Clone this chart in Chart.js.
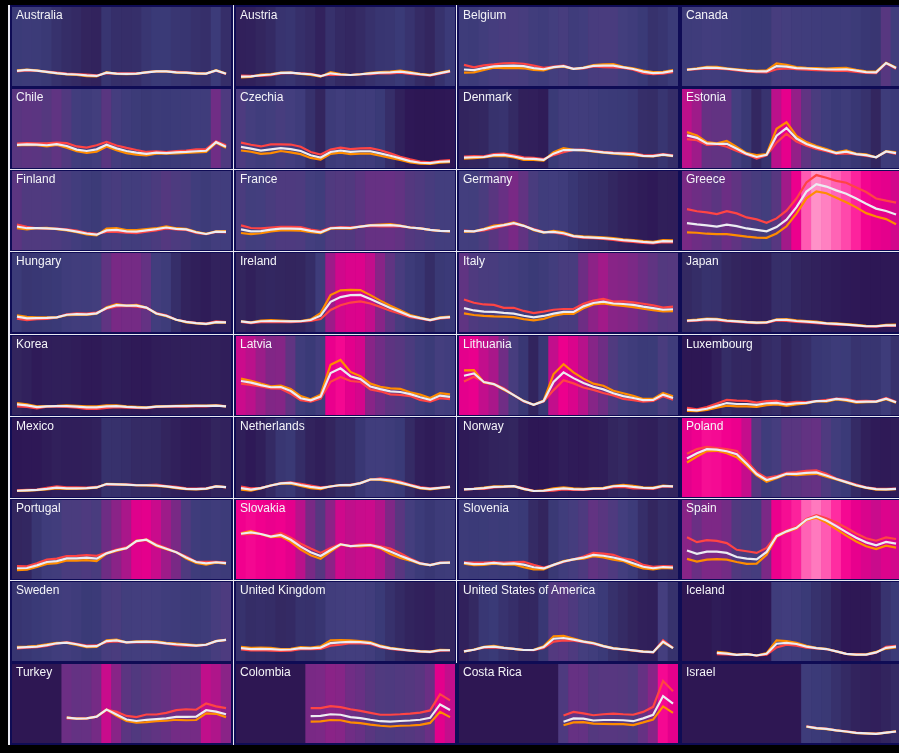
<!DOCTYPE html>
<html>
<head>
<meta charset="utf-8">
<script src="https://cdn.jsdelivr.net/npm/chart.js@4.4.0/dist/chart.umd.min.js"></script>
<style>
  html, body { margin: 0; padding: 0; background: #000; width: 899px; height: 753px; overflow: hidden; }
  #frame { position: absolute; left: 10px; top: 5px; width: 889px; height: 740px; background: #0f0c55; }
  .panel { position: absolute; background: #2e1753; overflow: hidden; }
  .panel canvas { position: absolute; left: 0; top: 0; }
  .title { position: absolute; left: 4px; top: 1px; font: 12px "Liberation Sans", Arial, sans-serif; color: #f4f4f8; white-space: nowrap; }
  .rule { position: absolute; background: #e9e9f1; }
</style>
</head>
<body>
<div id="frame"></div>
<script>
// unemployment rate (%), yearly 2000-2021; total / women / men per country
const years = [2000, 2001, 2002, 2003, 2004, 2005, 2006, 2007, 2008, 2009, 2010,
               2011, 2012, 2013, 2014, 2015, 2016, 2017, 2018, 2019, 2020, 2021];

const countries = [
  'Australia', 'Austria', 'Belgium', 'Canada',
  'Chile', 'Czechia', 'Denmark', 'Estonia',
  'Finland', 'France', 'Germany', 'Greece',
  'Hungary', 'Ireland', 'Italy', 'Japan',
  'Korea', 'Latvia', 'Lithuania', 'Luxembourg',
  'Mexico', 'Netherlands', 'Norway', 'Poland',
  'Portugal', 'Slovakia', 'Slovenia', 'Spain',
  'Sweden', 'United Kingdom', 'United States of America', 'Iceland',
  'Turkey', 'Colombia', 'Costa Rica', 'Israel'
];

const gap = n => Array(n).fill(null); // years with no data

const total = [
  [6.3,6.7,6.4,5.9,5.4,5.0,4.8,4.4,4.2,5.6,5.2,5.1,5.2,5.7,6.1,6.1,5.7,5.6,5.3,5.2,6.5,5.1], // Australia
  [3.9,4.0,4.5,4.8,5.5,5.6,5.2,4.9,4.1,5.3,4.8,4.6,4.9,5.3,5.6,5.7,6.0,5.5,4.9,4.5,5.4,6.2], // Austria
  [6.9,6.6,7.5,8.2,8.4,8.5,8.3,7.5,7.0,7.9,8.3,7.2,7.6,8.4,8.5,8.5,7.8,7.1,6.0,5.4,5.6,6.3], // Belgium
  [6.8,7.2,7.7,7.6,7.2,6.8,6.3,6.1,6.1,8.3,8.1,7.5,7.3,7.1,6.9,6.9,7.0,6.4,5.8,5.7,9.6,7.5], // Canada
  [9.7,9.9,9.8,9.5,10.0,9.2,7.7,7.1,7.8,9.7,8.2,7.1,6.4,5.9,6.4,6.2,6.5,6.7,7.0,7.2,10.8,8.9], // Chile
  [8.8,8.1,7.3,7.8,8.3,7.9,7.1,5.3,4.4,6.7,7.3,6.7,7.0,7.0,6.1,5.1,4.0,2.9,2.2,2.0,2.6,2.8], // Czechia
  [4.3,4.5,4.6,5.4,5.5,4.8,3.9,3.8,3.4,6.0,7.5,7.6,7.5,7.0,6.5,6.2,6.0,5.8,5.1,5.0,5.6,5.1], // Denmark
  [13.6,12.6,10.3,10.1,10.1,8.0,5.9,4.6,5.5,13.5,16.7,12.3,10.0,8.6,7.4,6.2,6.8,5.8,5.4,4.5,6.9,6.2], // Estonia
  [9.8,9.1,9.1,9.0,8.8,8.4,7.7,6.9,6.4,8.2,8.4,7.8,7.7,8.2,8.7,9.4,8.8,8.6,7.4,6.7,7.7,7.6], // Finland
  [8.6,7.8,7.9,8.5,8.9,8.9,8.8,8.0,7.4,9.1,9.3,9.2,9.8,10.3,10.3,10.4,10.1,9.4,9.0,8.4,8.0,7.9], // France
  [7.9,7.8,8.6,9.7,10.4,11.2,10.1,8.5,7.4,7.6,7.0,5.8,5.4,5.2,5.0,4.6,4.1,3.8,3.4,3.1,3.7,3.6], // Germany
  [11.2,10.7,10.3,9.8,10.6,10.0,9.0,8.4,7.8,9.6,12.7,17.9,24.4,27.5,26.5,24.9,23.5,21.5,19.3,17.3,16.3,14.8], // Greece
  [6.4,5.7,5.8,5.9,6.1,7.2,7.5,7.4,7.8,10.0,11.2,11.0,11.0,10.2,7.7,6.8,5.1,4.2,3.7,3.4,4.1,4.0], // Hungary
  [4.4,3.9,4.5,4.6,4.5,4.4,4.5,5.0,6.8,12.6,14.6,15.4,15.5,13.8,11.9,10.0,8.4,6.7,5.8,5.0,5.9,6.2], // Ireland
  [10.0,9.0,8.5,8.4,8.0,7.7,6.8,6.1,6.7,7.7,8.4,8.4,10.7,12.1,12.7,11.9,11.7,11.3,10.6,10.0,9.3,9.5], // Italy
  [4.7,5.0,5.4,5.3,4.7,4.4,4.1,3.9,4.0,5.1,5.1,4.6,4.3,4.0,3.6,3.4,3.1,2.8,2.4,2.4,2.8,2.8], // Japan
  [4.4,4.0,3.3,3.6,3.7,3.7,3.5,3.2,3.2,3.6,3.7,3.4,3.2,3.1,3.5,3.6,3.7,3.7,3.8,3.8,3.9,3.6], // Korea
  [14.2,13.5,12.5,11.6,11.7,10.0,7.0,6.1,7.7,17.5,19.5,16.2,15.0,11.9,10.8,9.9,9.6,8.7,7.4,6.3,8.1,7.6], // Latvia
  [16.4,17.4,13.8,12.9,10.8,8.3,5.8,4.3,5.8,13.8,17.8,15.4,13.4,11.8,10.7,9.1,7.9,7.1,6.2,6.3,8.5,7.1], // Lithuania
  [2.2,1.9,2.6,3.8,5.0,4.6,4.6,4.2,4.9,5.1,4.4,4.9,5.1,5.8,5.9,6.7,6.3,5.5,5.6,5.6,6.8,5.3], // Luxembourg
  [2.6,2.8,3.0,3.4,3.9,3.6,3.6,3.7,4.0,5.4,5.3,5.2,4.9,4.9,4.8,4.4,3.9,3.4,3.3,3.5,4.4,4.1], // Mexico
  [3.7,3.1,3.7,4.8,5.7,5.9,5.0,4.2,3.7,4.4,5.0,5.0,5.8,7.3,7.4,6.9,6.0,4.9,3.8,3.4,3.8,4.2], // Netherlands
  [3.2,3.4,3.7,4.2,4.3,4.5,3.4,2.5,2.6,3.2,3.6,3.3,3.2,3.5,3.6,4.5,4.7,4.2,3.8,3.7,4.6,4.4], // Norway
  [16.1,18.3,20.0,19.8,19.1,17.9,13.9,9.6,7.1,8.2,9.7,9.7,10.1,10.3,9.0,7.5,6.2,4.9,3.9,3.3,3.2,3.4], // Poland
  [4.5,4.6,5.7,7.1,7.5,8.6,8.6,8.9,8.5,10.7,12.0,12.9,15.8,16.4,14.1,12.6,11.2,9.0,7.1,6.5,7.0,6.6], // Portugal
  [18.9,19.5,18.8,17.7,18.4,16.4,13.5,11.2,9.6,12.1,14.5,13.7,14.0,14.2,13.2,11.5,9.7,8.1,6.5,5.8,6.7,6.8], // Slovakia
  [6.7,6.2,6.3,6.7,6.3,6.5,6.0,4.9,4.4,5.9,7.3,8.2,8.9,10.1,9.7,9.0,8.0,6.6,5.1,4.5,5.0,4.8], // Slovenia
  [11.9,10.5,11.4,11.4,10.9,9.2,8.5,8.2,11.3,17.9,19.9,21.4,24.8,26.1,24.4,22.1,19.6,17.2,15.3,14.1,15.5,14.8], // Spain
  [5.6,5.8,6.0,6.6,7.4,7.7,7.0,6.1,6.2,8.3,8.6,7.8,8.0,8.1,7.9,7.4,7.0,6.7,6.4,6.8,8.3,8.8], // Sweden
  [5.4,5.0,5.1,5.0,4.7,4.8,5.4,5.3,5.6,7.5,7.8,8.0,7.9,7.5,6.1,5.3,4.8,4.3,4.0,3.8,4.5,4.5], // United Kingdom
  [4.0,4.7,5.8,6.0,5.5,5.1,4.6,4.6,5.8,9.3,9.6,8.9,8.1,7.4,6.2,5.3,4.9,4.4,3.9,3.7,8.1,5.4], // United States
  [...gap(3), 3.4,3.1,2.6,2.9,2.3,3.0,7.2,7.6,7.1,6.0,5.4,5.0,4.0,3.0,2.7,2.7,3.6,5.5,6.0], // Iceland
  [...gap(5), 10.6,10.2,10.3,11.0,14.0,11.9,9.8,9.2,9.7,10.0,10.3,10.9,10.9,11.0,13.7,13.1,12.0], // Turkey
  [...gap(7), 11.2,11.3,12.0,11.8,10.8,10.4,9.7,9.1,8.9,9.2,9.4,9.7,10.5,16.1,13.8], // Colombia
  [...gap(10), 8.9,10.3,10.2,9.4,9.6,9.6,9.5,9.1,10.3,11.8,19.6,16.4], // Costa Rica
  [...gap(12), 6.9,6.2,5.9,5.3,4.8,4.2,4.0,3.8,4.3,4.8] // Israel
];

const women = [
  [6.1,6.5,6.3,6.0,5.6,5.2,5.0,4.8,4.4,5.4,5.3,5.3,5.3,5.6,6.2,6.1,5.9,5.7,5.4,5.2,6.4,5.0],
  [4.3,4.2,4.2,4.5,5.3,5.5,5.3,5.1,4.2,4.7,4.6,4.6,4.9,5.0,5.4,5.3,5.6,5.1,4.7,4.3,5.1,6.0],
  [8.8,7.8,8.6,9.0,9.5,9.6,9.3,8.5,7.6,8.1,8.5,7.2,7.4,8.2,7.9,7.8,7.6,6.8,5.4,5.0,5.2,5.8],
  [6.7,7.0,7.4,7.2,7.0,6.5,6.1,5.8,5.7,7.0,7.3,7.0,6.8,6.6,6.5,6.3,6.3,5.9,5.5,5.4,9.5,7.2],
  [10.2,10.4,10.3,10.3,10.6,10.4,9.0,8.5,9.5,10.9,9.4,8.4,7.5,6.7,7.0,6.6,7.1,7.3,7.8,7.9,11.2,9.5],
  [10.6,9.7,9.0,9.9,9.9,9.8,8.9,6.7,5.6,7.7,8.5,7.9,8.2,8.3,7.4,6.1,4.7,3.6,2.7,2.4,3.0,3.3],
  [4.8,5.0,4.9,5.8,6.0,5.3,4.5,4.2,3.7,5.4,6.6,7.6,7.7,7.2,6.7,6.4,6.3,6.2,5.4,5.3,5.8,5.3],
  [12.1,11.6,9.7,9.9,8.9,7.1,5.6,3.9,5.3,10.6,14.3,11.1,9.3,8.0,7.0,5.9,6.1,5.7,5.1,4.5,6.8,5.9],
  [10.6,9.7,9.1,8.9,8.9,8.6,8.1,7.2,6.7,7.6,7.6,7.2,7.0,7.7,8.2,9.0,8.6,8.4,7.1,6.6,7.6,7.4],
  [10.3,9.2,9.0,9.4,9.7,9.7,9.6,8.5,7.9,9.3,9.6,9.5,9.8,10.1,9.9,9.9,9.9,9.4,9.0,8.4,8.0,7.9],
  [8.1,7.8,8.2,9.1,10.1,10.9,10.1,8.8,7.6,7.3,6.6,5.6,5.1,4.9,4.6,4.2,3.7,3.4,3.0,2.8,3.3,3.2],
  [17.1,16.2,15.7,15.0,16.2,15.3,13.6,12.8,11.4,13.2,16.4,21.5,28.2,31.3,30.2,28.9,28.1,26.1,24.2,21.5,20.6,19.8],
  [5.6,5.0,5.4,5.5,6.1,7.4,7.8,7.7,8.1,9.7,10.7,10.9,10.6,10.1,7.9,7.0,5.1,4.4,3.8,3.5,4.4,4.1],
  [4.2,3.7,4.1,4.1,4.1,4.1,4.3,4.6,5.4,9.2,11.2,12.3,12.8,11.9,10.5,8.9,7.6,6.2,5.6,4.9,5.7,6.0],
  [13.6,12.2,11.5,11.3,10.1,10.1,8.8,7.9,8.5,9.3,9.6,9.6,11.8,13.1,13.8,12.7,12.8,12.4,11.8,11.1,10.2,10.6],
  [4.5,4.7,5.1,4.9,4.4,4.2,3.9,3.7,3.8,4.8,4.6,4.2,4.0,3.7,3.4,3.1,3.0,2.7,2.3,2.2,2.6,2.6],
  [3.6,3.4,2.8,3.5,3.5,3.4,3.1,2.6,2.6,3.0,3.3,3.1,3.0,2.9,3.4,3.5,3.5,3.5,3.7,3.6,3.9,3.7],
  [13.1,12.6,11.9,11.1,11.0,8.9,6.2,5.6,6.9,13.9,15.9,14.2,13.8,10.7,9.9,8.6,8.4,7.9,6.3,5.6,7.0,6.6],
  [14.0,16.0,13.9,13.0,11.2,8.3,5.6,4.3,5.6,10.4,14.5,13.2,11.5,10.5,9.2,8.2,6.7,6.2,5.6,5.9,7.8,6.4],
  [3.0,2.4,3.3,4.8,6.3,6.0,5.9,5.2,5.8,5.9,5.1,5.5,5.4,5.8,6.3,6.9,6.7,5.8,5.9,5.7,7.1,5.5],
  [2.8,3.0,3.1,3.8,4.4,4.0,4.0,3.9,4.2,5.3,5.2,5.3,5.0,5.0,5.2,4.6,4.2,3.6,3.5,3.6,4.5,4.0],
  [4.4,3.6,3.8,4.7,5.8,6.1,5.5,4.8,4.0,4.3,5.0,5.2,5.8,7.2,7.8,7.3,6.4,5.2,4.1,3.6,3.9,4.3],
  [3.2,3.4,3.4,4.0,4.2,4.6,3.6,2.6,2.5,2.7,3.2,3.0,3.0,3.4,3.4,4.1,4.2,3.6,3.6,3.4,4.4,4.3],
  [18.1,20.0,20.9,20.4,20.0,19.2,14.9,10.4,8.0,8.7,10.1,10.4,10.9,11.1,9.7,7.7,6.5,5.2,4.0,3.5,3.4,3.5],
  [5.4,5.3,6.6,8.1,8.5,9.6,9.7,10.0,9.7,10.9,12.3,13.2,15.6,16.6,14.5,12.9,11.2,9.4,7.2,7.2,7.2,6.9],
  [18.6,18.8,18.8,17.8,19.2,17.2,14.7,12.7,10.9,12.9,14.6,13.6,14.5,14.5,13.6,12.7,10.8,8.6,6.7,5.8,6.8,6.7],
  [7.0,6.8,6.8,7.1,6.8,7.1,7.2,5.9,4.8,5.8,7.1,8.2,9.4,10.9,10.6,10.1,8.6,7.9,5.9,5.1,5.4,5.3],
  [17.4,15.4,16.2,15.9,15.0,12.2,11.6,10.9,13.0,18.4,20.2,21.8,25.1,26.7,25.4,23.6,21.4,19.0,17.0,16.0,17.4,16.7],
  [5.3,5.6,5.8,6.3,7.2,7.9,7.2,6.4,6.5,7.9,8.2,7.8,7.8,7.9,7.7,7.2,6.6,6.4,6.3,6.7,8.3,8.8],
  [4.8,4.4,4.5,4.3,4.2,4.3,4.9,5.0,5.1,6.4,6.8,7.4,7.4,7.1,5.8,5.1,4.6,4.3,3.9,3.7,4.3,4.4],
  [4.1,4.7,5.6,5.7,5.4,5.1,4.6,4.5,5.4,8.1,8.6,8.5,7.9,7.1,6.1,5.2,4.8,4.3,3.8,3.6,8.7,5.5],
  [...gap(3), 2.9,2.8,2.6,2.9,2.3,2.6,5.7,6.8,6.4,5.6,5.3,4.9,4.0,3.0,2.9,2.7,3.5,5.9,6.3],
  [...gap(5), 10.3,10.3,10.3,11.0,13.9,13.0,11.3,10.8,11.9,11.9,12.6,13.7,14.1,13.9,16.5,15.3,14.6],
  [...gap(7), 14.6,14.6,15.4,15.0,14.1,13.4,12.6,11.8,11.8,12.0,12.3,12.7,13.6,20.4,17.8],
  [...gap(10), 11.5,13.0,12.4,11.6,12.0,12.3,12.0,11.8,13.0,15.1,25.9,21.6],
  [...gap(12), 7.0,6.3,6.0,5.3,4.9,4.3,4.0,3.9,4.3,4.8]
];

const men = [
  [6.5,6.9,6.5,5.8,5.3,4.8,4.6,4.1,4.0,5.8,5.1,4.9,5.1,5.8,6.1,6.1,5.6,5.5,5.2,5.2,6.6,5.2],
  [3.6,3.8,4.8,5.0,5.6,5.6,5.0,4.6,3.9,5.8,5.0,4.6,4.9,5.5,5.8,6.0,6.4,5.8,5.1,4.7,5.6,6.4],
  [5.6,5.7,6.7,7.7,7.5,7.6,7.4,6.7,6.5,7.8,8.1,7.1,7.7,8.7,9.0,9.1,8.0,7.4,6.4,5.8,5.9,6.7],
  [6.9,7.4,8.0,8.0,7.4,7.0,6.6,6.3,6.5,9.4,8.8,7.9,7.6,7.5,7.3,7.5,7.6,6.8,6.1,6.0,9.7,7.7],
  [9.4,9.6,9.5,9.0,9.6,8.5,7.0,6.3,6.8,9.0,7.4,6.2,5.6,5.3,6.0,6.0,6.1,6.3,6.5,6.7,10.5,8.5],
  [7.3,6.8,5.9,6.2,7.1,6.5,5.8,4.2,3.5,5.9,6.4,5.8,6.0,6.0,5.1,4.2,3.4,2.3,1.8,1.7,2.2,2.4],
  [3.9,4.1,4.4,5.0,5.1,4.4,3.4,3.4,3.1,6.6,8.3,7.6,7.4,6.8,6.4,6.0,5.7,5.4,4.9,4.8,5.5,4.9],
  [15.0,13.6,10.8,10.3,11.3,8.8,6.2,5.4,5.8,16.4,19.1,13.4,10.8,9.2,7.9,6.5,7.4,6.0,5.7,4.5,7.0,6.5],
  [9.1,8.6,9.1,9.2,8.7,8.2,7.4,6.5,6.1,8.9,9.1,8.3,8.3,8.7,9.1,9.9,9.1,8.8,7.6,6.8,7.8,7.9],
  [7.1,6.6,7.0,7.8,8.2,8.2,8.1,7.5,7.0,8.9,9.1,8.9,9.8,10.4,10.6,10.8,10.2,9.4,9.0,8.4,8.0,7.8],
  [7.6,7.8,8.9,10.2,10.6,11.5,10.2,8.3,7.3,8.0,7.4,6.0,5.7,5.5,5.3,5.0,4.5,4.1,3.7,3.4,4.1,4.0],
  [7.4,7.2,6.8,6.6,6.6,6.1,5.6,5.2,5.1,6.9,9.9,15.2,21.6,24.5,23.7,21.8,19.9,17.8,15.4,14.0,12.9,10.8],
  [7.0,6.3,6.1,6.1,6.1,7.0,7.1,7.1,7.6,10.3,11.6,11.0,11.3,10.2,7.6,6.6,5.1,4.0,3.6,3.3,3.9,3.9],
  [4.5,4.0,4.8,5.0,4.8,4.6,4.6,5.3,7.9,15.4,17.4,17.6,17.5,15.4,13.1,11.0,9.1,7.1,6.0,5.1,6.1,6.4],
  [7.8,7.1,6.7,6.5,6.4,6.2,5.4,4.9,5.5,6.8,7.6,7.6,9.9,11.5,11.9,11.3,10.9,10.4,9.7,9.1,8.6,8.7],
  [4.9,5.2,5.6,5.5,4.9,4.6,4.2,3.9,4.1,5.3,5.4,4.9,4.6,4.3,3.7,3.6,3.3,3.0,2.6,2.5,3.0,3.1],
  [5.0,4.5,3.6,3.7,3.8,4.0,3.8,3.6,3.6,4.0,4.0,3.6,3.4,3.2,3.6,3.7,3.8,3.9,3.9,3.9,4.0,3.6],
  [15.2,14.3,13.1,12.0,12.3,10.9,7.9,6.6,8.5,21.0,23.0,18.0,16.2,13.1,11.8,11.1,10.9,9.5,8.5,7.1,9.1,8.6],
  [18.6,18.7,13.6,12.8,10.5,8.3,5.9,4.3,6.0,17.1,21.2,17.8,15.2,13.1,12.2,10.1,9.1,8.0,6.7,6.7,9.2,7.8],
  [1.7,1.6,2.1,3.1,3.9,3.6,3.6,3.4,4.1,4.4,3.8,4.4,4.8,5.8,5.6,6.5,6.0,5.2,5.4,5.5,6.6,5.1],
  [2.5,2.7,2.9,3.2,3.6,3.4,3.4,3.6,3.9,5.5,5.4,5.1,4.9,4.8,4.6,4.3,3.7,3.3,3.2,3.4,4.4,4.1],
  [3.1,2.7,3.6,4.9,5.6,5.6,4.6,3.7,3.3,4.5,4.9,4.8,5.8,7.4,7.1,6.5,5.7,4.7,3.6,3.2,3.7,4.1],
  [3.3,3.4,3.9,4.5,4.4,4.5,3.3,2.5,2.8,3.6,4.0,3.6,3.4,3.7,3.8,4.7,5.1,4.7,4.0,3.9,4.8,4.5],
  [14.4,16.9,19.2,19.3,18.3,16.6,13.0,9.0,6.4,7.8,9.4,9.1,9.4,9.7,8.5,7.3,6.1,4.7,3.8,3.1,3.1,3.3],
  [3.7,3.9,5.0,6.3,6.6,7.8,7.7,7.9,7.5,10.6,11.7,12.8,16.1,16.3,13.8,12.4,11.2,8.6,6.7,6.0,6.8,6.4],
  [19.1,20.1,18.7,17.5,17.8,15.5,12.3,9.9,8.4,11.4,14.3,13.7,13.6,14.0,12.8,10.4,8.8,7.7,6.3,5.8,6.6,6.9],
  [6.4,5.8,5.9,6.4,6.0,6.1,4.9,4.0,4.0,5.9,7.5,8.2,8.5,9.5,9.0,8.1,7.5,5.7,4.4,4.0,4.6,4.4],
  [8.4,7.3,8.1,8.3,8.1,7.1,6.3,6.4,10.1,17.6,19.7,21.1,24.6,25.6,23.6,20.8,18.1,15.7,13.7,12.5,13.9,13.1],
  [5.9,6.0,6.3,7.0,7.6,7.6,6.7,5.8,5.9,8.6,8.9,7.8,8.2,8.2,8.2,7.6,7.3,7.0,6.6,6.9,8.3,8.8],
  [5.9,5.5,5.6,5.5,5.0,5.1,5.8,5.6,6.1,8.6,8.7,8.6,8.3,7.9,6.4,5.5,5.0,4.4,4.1,3.9,4.7,4.6],
  [3.9,4.8,5.9,6.3,5.6,5.1,4.6,4.7,6.1,10.3,10.5,9.4,8.2,7.6,6.3,5.4,4.9,4.4,4.0,3.7,7.7,5.4],
  [...gap(3), 3.8,3.4,2.6,2.9,2.3,3.3,8.6,8.3,7.6,6.3,5.5,5.1,4.0,3.0,2.6,2.8,3.8,5.2,5.7],
  [...gap(5), 10.7,10.2,10.3,11.0,14.0,11.4,9.2,8.5,8.7,9.1,9.3,9.7,9.5,9.6,12.4,12.2,10.8],
  [...gap(7), 8.9,9.0,9.6,9.5,8.6,8.3,7.7,7.2,6.9,7.2,7.3,7.6,8.4,13.0,10.8],
  [...gap(10), 7.4,8.6,8.7,8.1,8.0,7.9,7.9,7.5,8.6,9.8,15.3,12.6],
  [...gap(12), 6.8,6.1,5.8,5.3,4.7,4.1,4.0,3.8,4.3,4.9]
];

const yMax = 33;

// layout of the small multiples
const colLeft = [12, 236, 459, 682];
const rowTop = [7, 89, 171, 253, 336, 418, 500, 582, 664];
const panelW = 219, panelH = 79;

// background stripe colour by level of the total rate
const levelStops = [
  [0, '#2a1450'], [3, '#2e1856'], [4.5, '#33265f'], [6, '#3a3a77'], [8, '#433e7e'],
  [9.5, '#55387f'], [10.5, '#6a2f84'], [12, '#8a2387'], [13, '#ac168a'], [14, '#c80c8c'],
  [16, '#e2008c'], [19, '#f2008e'], [22, '#ff2aa0'], [25, '#ff66b6'], [28, '#ff9acb']
];

function hexToRgb(h) {
  return [parseInt(h.slice(1, 3), 16), parseInt(h.slice(3, 5), 16), parseInt(h.slice(5, 7), 16)];
}

function levelColor(v) {
  if (v == null) return 'rgba(0,0,0,0)';
  if (v <= levelStops[0][0]) return levelStops[0][1];
  for (let i = 1; i < levelStops.length; i++) {
    if (v <= levelStops[i][0]) {
      const [v0, c0] = levelStops[i - 1];
      const [v1, c1] = levelStops[i];
      const t = (v - v0) / (v1 - v0);
      const a = hexToRgb(c0), b = hexToRgb(c1);
      const rgb = a.map((x, k) => Math.round(x + (b[k] - x) * t));
      return `rgb(${rgb[0]},${rgb[1]},${rgb[2]})`;
    }
  }
  return levelStops[levelStops.length - 1][1];
}

function addRule(left, top, width, height) {
  const r = document.createElement('div');
  r.className = 'rule';
  r.style.left = left + 'px';
  r.style.top = top + 'px';
  r.style.width = width + 'px';
  r.style.height = height + 'px';
  document.body.appendChild(r);
}

countries.forEach((name, i) => {
  const col = i % 4;
  const row = Math.floor(i / 4);

  const panel = document.createElement('div');
  panel.className = 'panel';
  panel.style.left = colLeft[col] + 'px';
  panel.style.top = rowTop[row] + 'px';
  panel.style.width = panelW + 'px';
  panel.style.height = panelH + 'px';

  const canvas = document.createElement('canvas');
  canvas.width = panelW;
  canvas.height = panelH;
  panel.appendChild(canvas);

  const title = document.createElement('div');
  title.className = 'title';
  title.textContent = name;
  panel.appendChild(title);

  document.body.appendChild(panel);

  new Chart(canvas, {
    type: 'bar',
    data: {
      labels: years,
      datasets: [
        {
          type: 'line', label: 'Total', data: total[i],
          borderColor: '#ececf2', borderWidth: 2.2, pointRadius: 0, order: 1
        },
        {
          type: 'line', label: 'Men', data: men[i],
          borderColor: '#ff8c00', borderWidth: 2.2, pointRadius: 0, order: 2
        },
        {
          type: 'line', label: 'Women', data: women[i],
          borderColor: '#ff4444', borderWidth: 2.2, pointRadius: 0, order: 3
        },
        {
          label: 'Level',
          data: total[i].map(v => v == null ? null : [0, yMax]),
          backgroundColor: total[i].map(levelColor),
          borderWidth: 0,
          barPercentage: 1,
          categoryPercentage: 1,
          order: 4
        }
      ]
    },
    options: {
      responsive: false,
      animation: false,
      events: [],
      layout: { padding: 0 },
      plugins: {
        legend: { display: false },
        tooltip: { enabled: false }
      },
      scales: {
        x: { display: false, offset: true },
        y: { display: false, min: 0, max: yMax }
      }
    }
  });
});

// thin white dividers seen between some panels
addRule(8, 5, 2, 740);
addRule(233, 5, 1, 740);
addRule(456, 5, 1, 658);
[169, 251, 334, 416, 498, 580].forEach(y => addRule(10, y, 889, 1));
</script>
</body>
</html>
